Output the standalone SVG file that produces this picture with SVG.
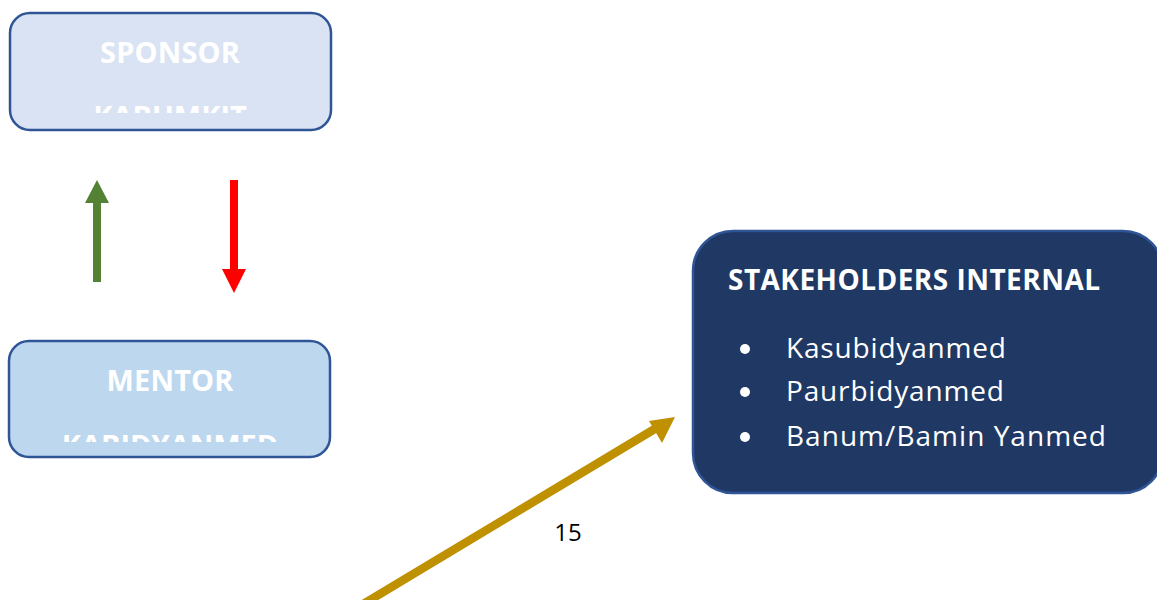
<svg xmlns="http://www.w3.org/2000/svg" width="1157" height="600" viewBox="0 0 1157 600">
  <style>
    .lbl { font-family: "Open Sans", "Noto Sans", "Liberation Sans", sans-serif; fill: #ffffff; }
    .bold { font-weight: 700; }
    .box { stroke: #2F5597; stroke-width: 2.5; }
  </style>
  <defs>
    <clipPath id="clipSponsor"><rect x="10" y="13" width="321" height="100"/></clipPath>
    <clipPath id="clipMentor"><rect x="9" y="341" width="321" height="101"/></clipPath>
  </defs>
  <rect width="1157" height="600" fill="#ffffff"/>

  <g id="sponsor">
    <rect class="box" x="10" y="13" width="321" height="117" rx="20" fill="#DAE3F3"/>
    <g clip-path="url(#clipSponsor)">
      <text class="lbl bold" x="170" y="63" font-size="29" text-anchor="middle" textLength="140">SPONSOR</text>
      <text class="lbl bold" x="170" y="127" font-size="29" text-anchor="middle">KABUMKIT</text>
    </g>
  </g>

  <g id="mentor">
    <rect class="box" x="9" y="341" width="321" height="116" rx="20" fill="#BDD7EE"/>
    <g clip-path="url(#clipMentor)">
      <text class="lbl bold" x="170" y="391" font-size="29" text-anchor="middle" textLength="127">MENTOR</text>
      <text class="lbl bold" x="170" y="456" font-size="29" text-anchor="middle">KABIDYANMED</text>
    </g>
  </g>

  <g id="stakeholders">
    <rect class="box" x="693" y="231" width="470" height="262" rx="40" fill="#203864"/>
    <text class="lbl bold" x="728" y="290" font-size="28" textLength="372">STAKEHOLDERS INTERNAL</text>
    <circle cx="745" cy="349" r="5" fill="#ffffff"/>
    <circle cx="745" cy="392" r="5" fill="#ffffff"/>
    <circle cx="745" cy="437" r="5" fill="#ffffff"/>
    <text class="lbl" x="786" y="358" font-size="28" textLength="220">Kasubidyanmed</text>
    <text class="lbl" x="786" y="401" font-size="28" textLength="218">Paurbidyanmed</text>
    <text class="lbl" x="786" y="446" font-size="28" textLength="320">Banum/Bamin Yanmed</text>
  </g>

  <g id="connectors">
    <!-- upward arrow: mentor to sponsor -->
    <polygon points="93,282 101,282 101,203 109,203 97,180 85,203 93,203" fill="#548235"/>
    <!-- downward arrow: sponsor to mentor -->
    <polygon points="230,180 238,180 238,269 246,269 234,293 222,269 230,269" fill="#FF0000"/>
    <!-- long diagonal arrow into stakeholders -->
    <line x1="350" y1="612" x2="658" y2="427" stroke="#BF9000" stroke-width="8.5"/>
    <polygon points="675,417 649,421 662,443" fill="#BF9000"/>
    <text x="568" y="541" font-size="24" text-anchor="middle" font-family="Open Sans, Noto Sans, Liberation Sans, sans-serif" fill="#000000">15</text>
  </g>
</svg>
